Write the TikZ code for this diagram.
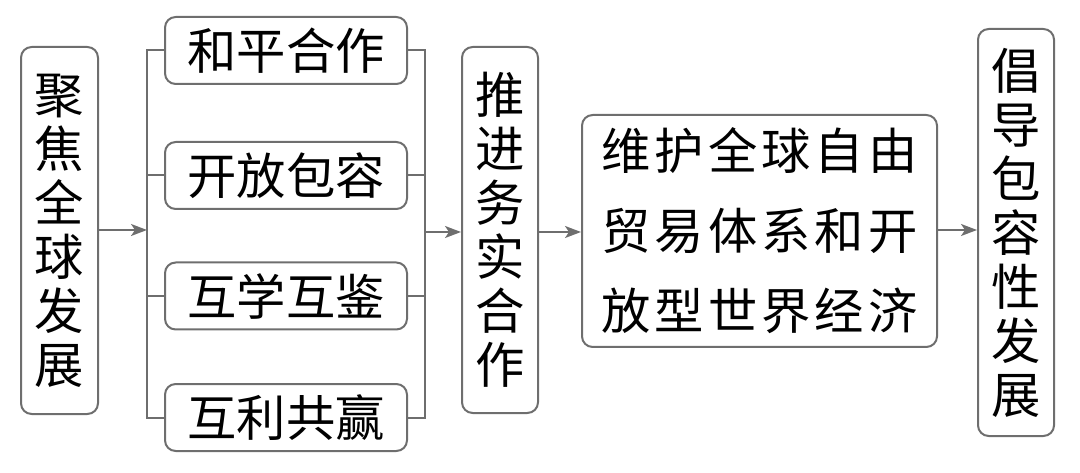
\documentclass[tikz,border=0pt]{standalone}
\usepackage{fontspec}
\newfontfamily\cjk{Noto Sans CJK SC}
\usetikzlibrary{arrows.meta}
\definecolor{ln}{HTML}{6E6E6E}
\newcommand\gp{\hspace{3pt}}
\begin{document}
\begin{tikzpicture}[x=0.75pt,y=-0.75pt,
  box/.style={draw=ln,line width=1.5pt,rounded corners=8pt,inner sep=0pt,align=center,
    font={\cjk\fontsize{37}{40.5}\selectfont}},
  conn/.style={draw=ln,line width=1.5pt},
  arr/.style={conn,-{Stealth[length=12pt,width=9pt,inset=3pt]}}]
\useasboundingbox (0,0) rectangle (1080,473);
\node[box,minimum width=57.75pt,minimum height=275.25pt] (b1) at (59.5,230.5) {聚\\焦\\全\\球\\发\\展};
\node[box,minimum width=181.5pt,minimum height=50.25pt] (c1) at (286,50.5) {和平合作};
\node[box,minimum width=181.5pt,minimum height=50.25pt] (c2) at (286,175.5) {开放包容};
\node[box,minimum width=181.5pt,minimum height=50.25pt] (c3) at (286,296) {互学互鉴};
\node[box,minimum width=181.5pt,minimum height=50.25pt] (c4) at (286,417.5) {互利共赢};
\node[box,minimum width=57pt,minimum height=274.5pt] (b2) at (500,230) {推\\进\\务\\实\\合\\作};
\node[box,minimum width=266.25pt,minimum height=174pt,font={\cjk\fontsize{37}{60}\selectfont}] (b3) at (759.5,231)
  {维\gp{}护\gp{}全\gp{}球\gp{}自\gp{}由\\贸\gp{}易\gp{}体\gp{}系\gp{}和\gp{}开\\放\gp{}型\gp{}世\gp{}界\gp{}经\gp{}济};
\node[box,minimum width=57pt,minimum height=305.25pt] (b4) at (1016,232.5) {倡\\导\\包\\容\\性\\发\\展};
\coordinate (L) at (147,230);
\coordinate (R) at (425,232);
\draw[arr] (b1.east |- L) -- (L);
\draw[conn] (c1.west) -| (L);
\draw[conn] (c4.west) -| (L);
\draw[conn] (c2.west) -- (c2.west -| L);
\draw[conn] (c3.west) -- (c3.west -| L);
\draw[conn] (c1.east) -| (R);
\draw[conn] (c4.east) -| (R);
\draw[conn] (c2.east) -- (c2.east -| R);
\draw[conn] (c3.east) -- (c3.east -| R);
\draw[arr] (R) -- (R -| b2.west);
\draw[arr] (b2.east |- R) -- (R -| b3.west);
\draw[arr] (b3.east |- 0,230) -- (b4.west |- 0,230);
\end{tikzpicture}
\end{document}
